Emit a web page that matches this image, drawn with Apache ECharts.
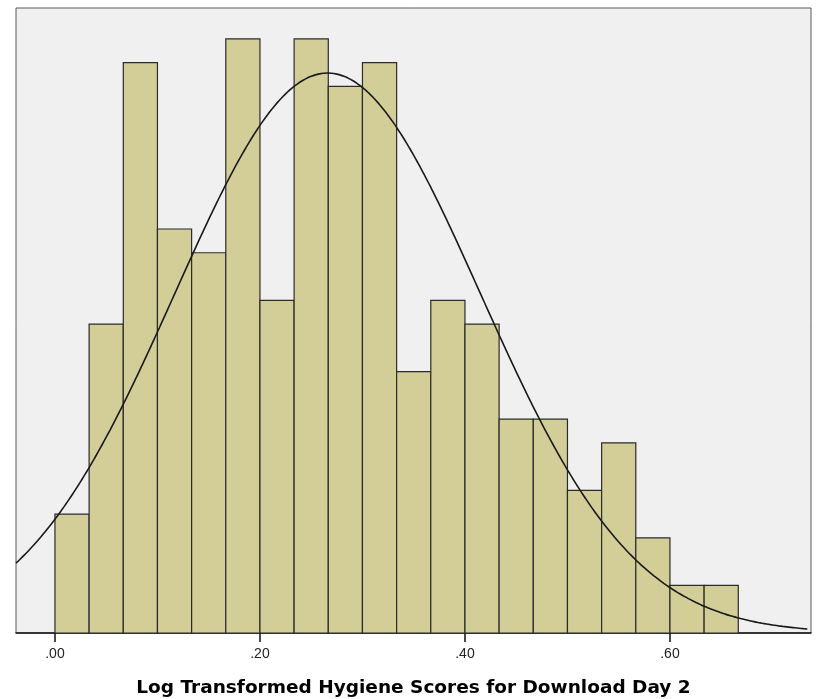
<!DOCTYPE html>
<html><head><meta charset="utf-8">
<script src="https://cdn.jsdelivr.net/npm/echarts@6/dist/echarts.min.js"></script>
<style>html,body{margin:0;padding:0;background:#fff}#c{width:817px;height:699px}</style>
</head><body><div id="c"></div>
<script>
// Histogram bins (left edges), bin width and counts
const binStart = 0.0;
const binWidth = 1 / 30;
const counts = [5, 13, 24, 17, 16, 25, 14, 25, 23, 24, 11, 14, 13, 9, 9, 6, 8, 4, 2, 2];
const tickValues = [0, 0.2, 0.4, 0.6];
const tickLabels = ['.00', '.20', '.40', '.60'];
const axisTitle = 'Log Transformed Hygiene Scores for Download Day 2';
// Fitted normal curve parameters
const fitMean = 0.266;
const fitSD = 0.149;
const fitN = 264;

const xMin = -0.038, xMax = 0.7376;
const bins = counts.map((c, i) => [binStart + i * binWidth, binStart + (i + 1) * binWidth, c]);
const curve = [];
for (let x = xMin; x <= xMax + 1e-9; x += 0.004) {
  const z = (x - fitMean) / fitSD;
  curve.push([x, fitN * binWidth / (fitSD * Math.sqrt(2 * Math.PI)) * Math.exp(-0.5 * z * z)]);
}

const chart = echarts.init(document.getElementById('c'), null, {renderer: 'canvas'});
chart.setOption({
  animation: false,
  backgroundColor: '#ffffff',
  grid: {left: 16, right: 6, top: 8, bottom: 66, outerBoundsMode: 'none', containLabel: false,
    show: true, backgroundColor: '#f0f0f0', borderColor: '#5a5a5a', borderWidth: 1},
  xAxis: {
    type: 'value', min: xMin, max: xMax,
    splitLine: {show: false},
    axisLine: {show: true, onZero: false, lineStyle: {color: '#111', width: 1.5}},
    axisTick: {show: true, length: 9, customValues: tickValues, lineStyle: {color: '#111', width: 1.5}},
    axisLabel: {show: true, customValues: tickValues, margin: 14, color: '#222', fontSize: 14, fontFamily: 'Liberation Sans, Arial, sans-serif',
      formatter: v => { const i = tickValues.findIndex(t => Math.abs(t - v) < 1e-9); return i >= 0 ? tickLabels[i] : ''; }},
    name: axisTitle, nameLocation: 'middle', nameGap: 46,
    nameTextStyle: {color: '#000', fontSize: 18.5, fontWeight: 'bold', fontFamily: 'DejaVu Sans, Verdana, sans-serif'}
  },
  yAxis: {type: 'value', min: 0, max: 26.3, show: false, splitLine: {show: false}},
  series: [
    {
      type: 'custom',
      data: bins,
      renderItem: (params, api) => {
        const p0 = api.coord([api.value(0), api.value(2)]);
        const p1 = api.coord([api.value(1), 0]);
        return {type: 'rect', shape: {x: p0[0], y: p0[1], width: p1[0] - p0[0], height: p1[1] - p0[1]},
          style: {fill: '#d3ce97', stroke: '#2b2b2b', lineWidth: 1.2}};
      },
      encode: {x: [0, 1], y: 2},
      z: 2
    },
    {
      type: 'line', data: curve, smooth: true, showSymbol: false,
      lineStyle: {color: '#1a1a1a', width: 1.6}, z: 3
    }
  ]
});
</script></body></html>
